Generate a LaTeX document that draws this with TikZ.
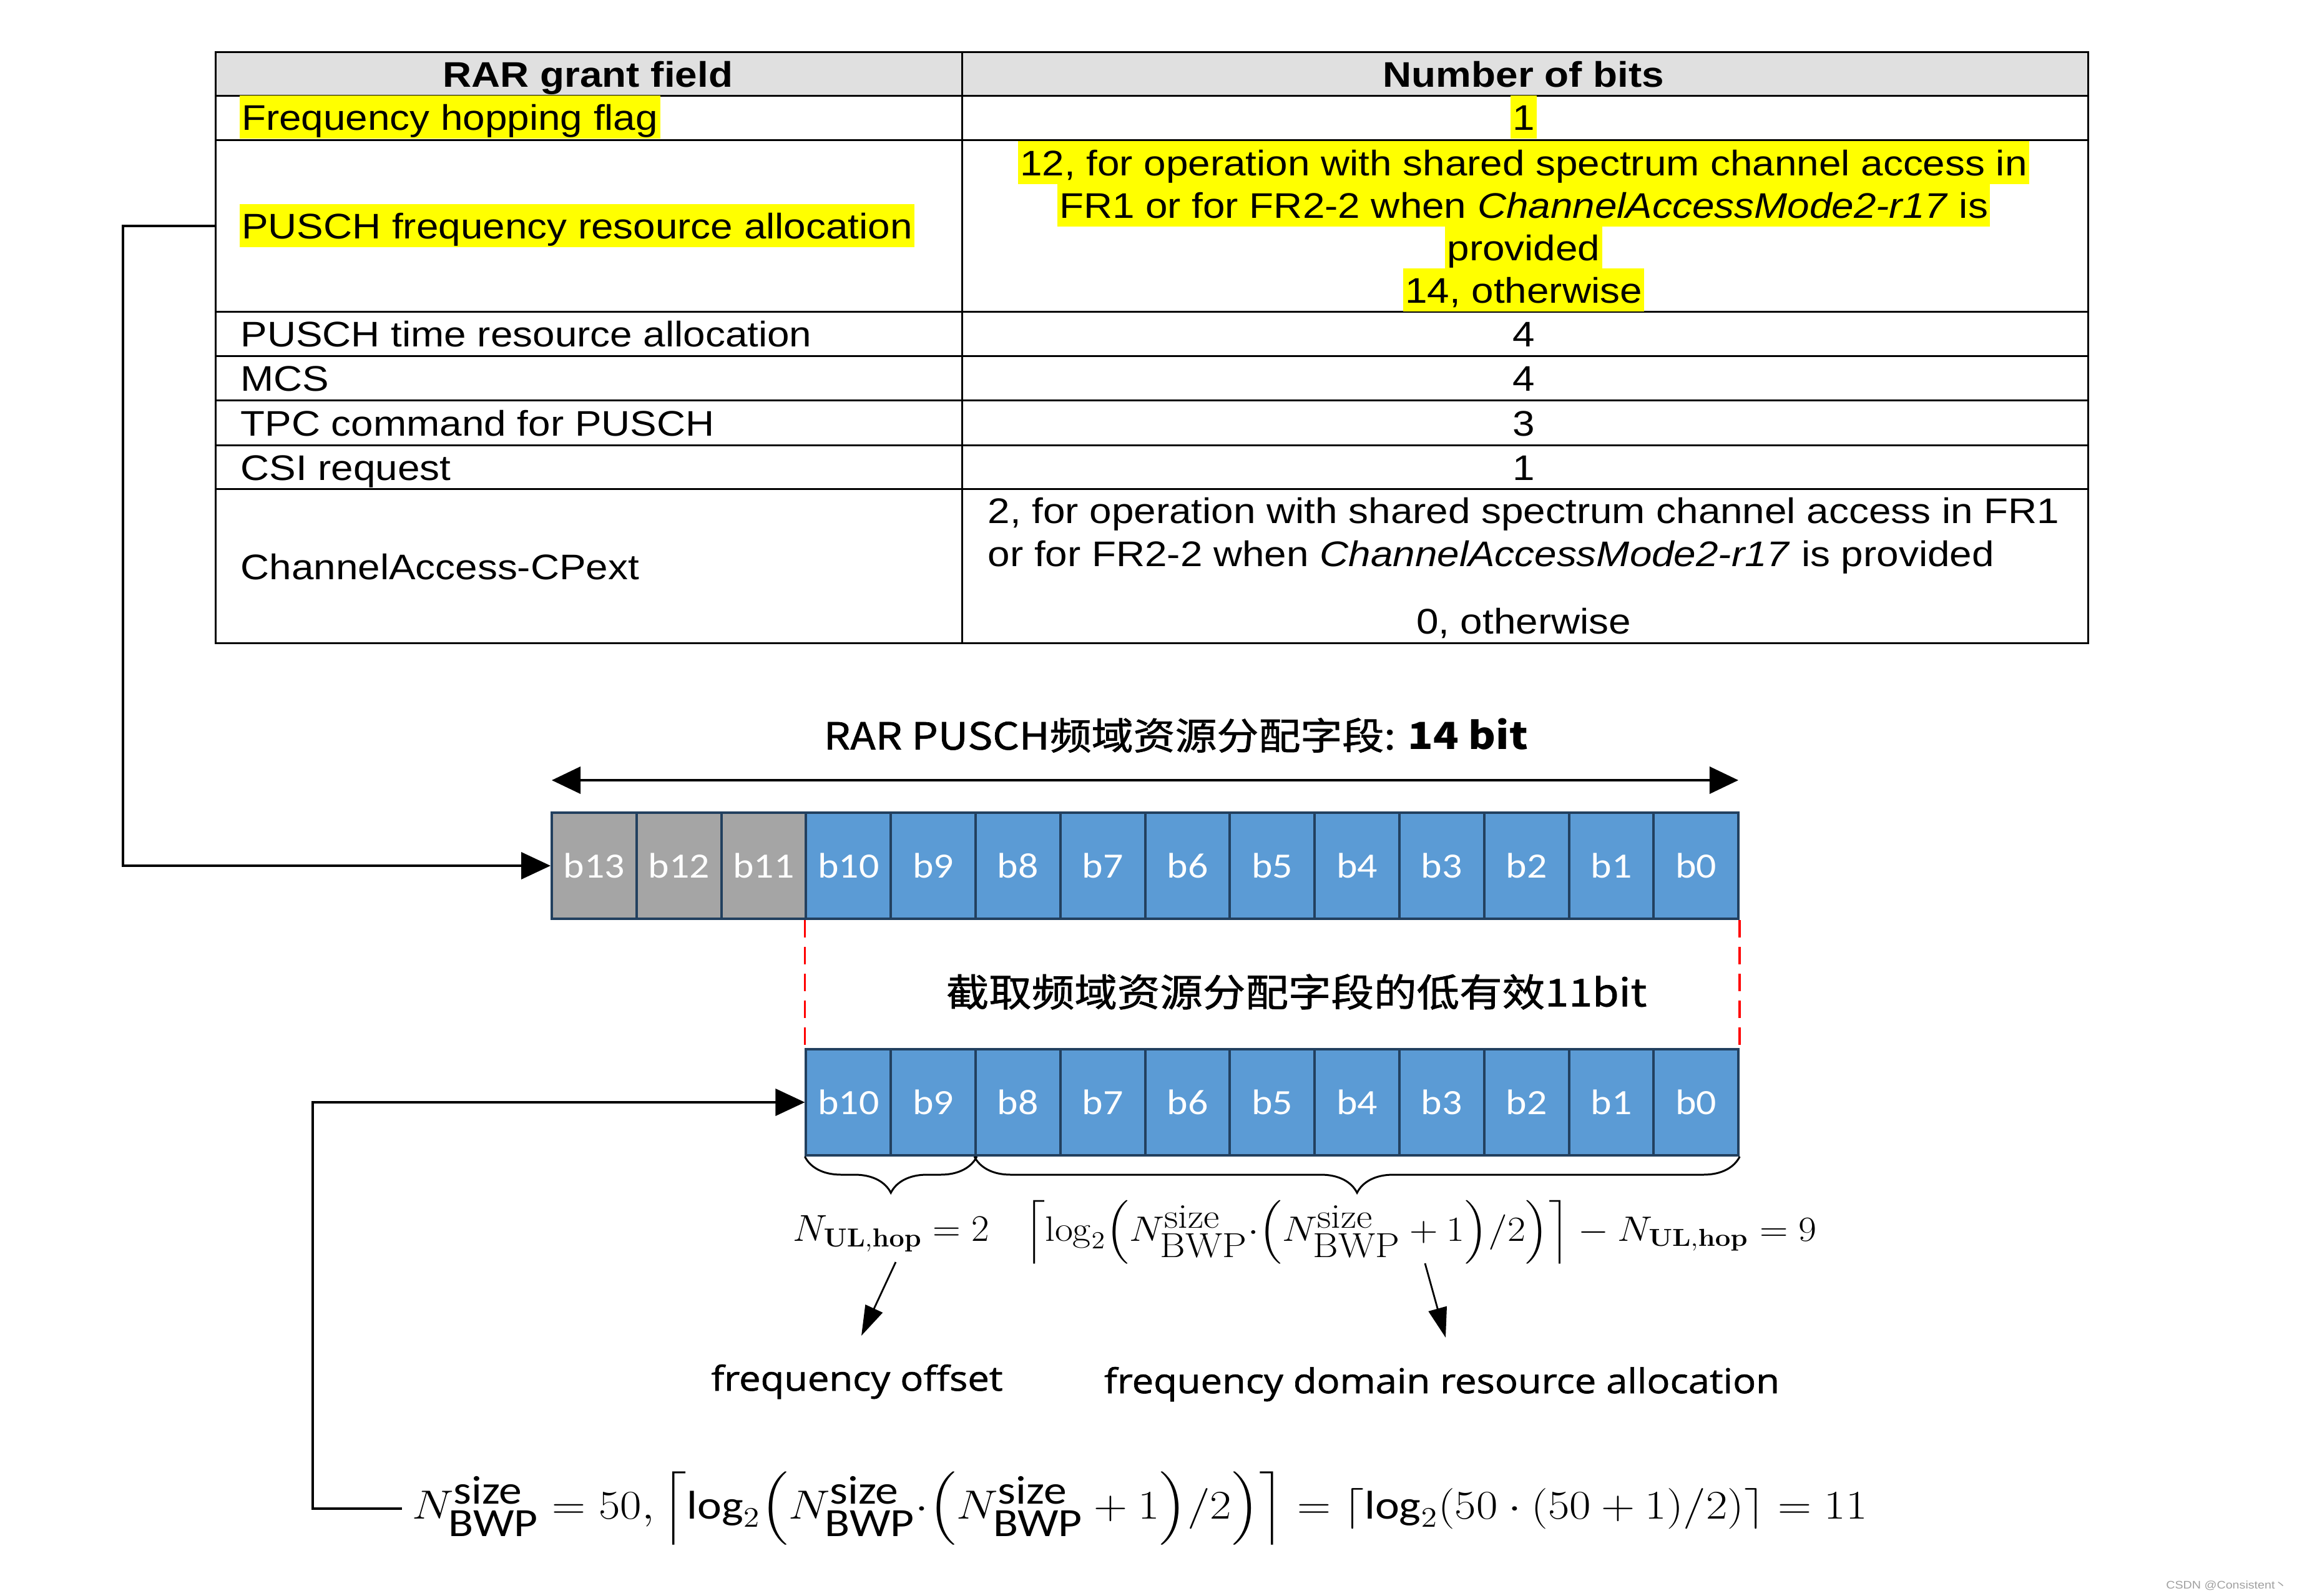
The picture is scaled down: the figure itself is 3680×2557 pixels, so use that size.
\documentclass[tikz,border=0pt]{standalone}
\usepackage[no-math]{fontspec}
\usepackage{amsmath}
\usepackage{graphicx}
\usetikzlibrary{arrows.meta,decorations.pathreplacing}
\setmainfont{Liberation Sans}[FakeStretch=1.12]
\newfontfamily\carl{Carlito}[FakeStretch=1.12]
\newfontfamily\carlm{Carlito}
\newfontfamily\cjk{Noto Sans CJK SC}[FakeStretch=1.12]
\newfontfamily\cjkmed{Noto Sans CJK SC}[FakeStretch=1.12, FakeBold=1.2]
\newfontfamily\osans{Open Sans}[FakeStretch=1.12, FakeBold=1.2]
\newfontfamily\lmr{Latin Modern Roman}
\definecolor{hl}{HTML}{FFFF00}
\definecolor{hdr}{HTML}{E0E0E0}
\definecolor{bitblue}{HTML}{5B9BD5}
\definecolor{bitgrey}{HTML}{A5A5A5}
\definecolor{bitline}{HTML}{22405F}
\definecolor{wmark}{HTML}{A0A0A0}
\newcommand{\Nsz}{N^{\mbox{\lmr size}}_{\mbox{\lmr BWP}}}
\newcommand{\Nszs}{N^{\mbox{\carlm size}}_{\mbox{\carlm BWP}}}
\newcommand{\Nhop}{N_{\mathbf{UL,hop}}}
\begin{document}
\begin{tikzpicture}[x=0.01cm,y=-0.01cm,
  lcell/.style={draw=black, line width=0.75pt, rectangle, inner sep=0pt, anchor=north west, minimum width=11.96cm},
  rcell/.style={draw=black, line width=0.75pt, rectangle, inner sep=0pt, anchor=north west, minimum width=18.03cm},
  ttext/.style={font=\fontsize{16.2}{19.5}\selectfont, inner sep=0pt, anchor=base west},
  ctext/.style={font=\fontsize{16.2}{19.5}\selectfont, inner sep=0pt, anchor=base},
  hltext/.style={fill=hl, inner xsep=1pt, inner ysep=0pt, text height=0.545cm, text depth=0.135cm},
  bit/.style={draw=bitline, line width=1.1pt, rectangle, minimum width=1.358cm, minimum height=1.70cm, inner sep=0pt, text=white, font=\carl\fontsize{16.2}{19}\selectfont},
  conn/.style={line width=1.1pt, -{Triangle[length=0.47cm,width=0.43cm]}},
  thinarr/.style={line width=0.8pt, -{Triangle[length=0.48cm,width=0.30cm]}},
  reddash/.style={red, line width=1.1pt, dash pattern=on 0.28cm off 0.15cm},
  brc/.style={decorate, decoration={brace, mirror, amplitude=0.58cm}, line width=0.85pt},
  cjkt/.style={font=\cjkmed\fontsize{17}{20}\selectfont, inner sep=0pt},
  lab/.style={font=\osans\fontsize{15.6}{18}\selectfont, inner sep=0pt, anchor=base},
  mth/.style={font=\fontsize{17}{20}\selectfont, inner sep=0pt, anchor=base}
]
\fill[white] (0,0) rectangle (3680,2557);
\useasboundingbox (0,0) rectangle (3680,2557);

% ---------------- table ----------------
\node[lcell, fill=hdr, minimum height=0.70cm] (L0) at (344,82) {};
\node[rcell, fill=hdr, minimum height=0.70cm] (R0) at (1540,82) {};
\node[lcell, minimum height=0.71cm] (L1) at (344,152) {};
\node[rcell, minimum height=0.71cm] (R1) at (1540,152) {};
\node[lcell, minimum height=2.75cm] (L2) at (344,223) {};
\node[rcell, minimum height=2.75cm] (R2) at (1540,223) {};
\node[lcell, minimum height=0.71cm] (L3) at (344,498) {};
\node[rcell, minimum height=0.71cm] (R3) at (1540,498) {};
\node[lcell, minimum height=0.71cm] (L4) at (344,569) {};
\node[rcell, minimum height=0.71cm] (R4) at (1540,569) {};
\node[lcell, minimum height=0.72cm] (L5) at (344,640) {};
\node[rcell, minimum height=0.72cm] (R5) at (1540,640) {};
\node[lcell, minimum height=0.70cm] (L6) at (344,712) {};
\node[rcell, minimum height=0.70cm] (R6) at (1540,712) {};
\node[lcell, minimum height=2.47cm] (L7) at (344,782) {};
\node[rcell, minimum height=2.47cm] (R7) at (1540,782) {};

\node[ctext, font=\fontsize{16.2}{19.5}\selectfont\bfseries] (h1) at (942,139) {RAR grant field};
\node[ctext, font=\fontsize{16.2}{19.5}\selectfont\bfseries] (h2) at (2441,139) {Number of bits};

\node[ttext, hltext] (t1) at (383,208) {Frequency hopping flag};
\node[ctext, hltext] (n1) at (2441,208) {1};
\node[ttext, hltext] (t2) at (383,382) {PUSCH frequency resource allocation};
\node[ctext, hltext] (n2a) at (2441,281) {12, for operation with shared spectrum channel access in};
\node[ctext, hltext] (n2b) at (2441,349) {FR1 or for FR2-2 when \textit{ChannelAccessMode2-r17} is};
\node[ctext, hltext] (n2c) at (2441,417) {provided};
\node[ctext, hltext] (n2d) at (2441,485) {14, otherwise};
\node[ttext] (t3) at (385,555) {PUSCH time resource allocation};
\node[ctext] (n3) at (2441,555) {4};
\node[ttext] (t4) at (385,626) {MCS};
\node[ctext] (n4) at (2441,626) {4};
\node[ttext] (t5) at (385,698) {TPC command for PUSCH};
\node[ctext] (n5) at (2441,698) {3};
\node[ttext] (t6) at (385,769) {CSI request};
\node[ctext] (n6) at (2441,769) {1};
\node[ttext] (t7) at (385,928) {ChannelAccess-CPext};
\node[ttext] (n7a) at (1582,838) {2, for operation with shared spectrum channel access in FR1};
\node[ttext] (n7b) at (1582,907) {or for FR2-2 when \textit{ChannelAccessMode2-r17} is provided};
\node[ctext] (n7c) at (2441,1015) {0, otherwise};

% ---------------- bit fields ----------------
\node[cjkt] (title) at (1884,1178) {RAR PUSCH频域资源分配字段: {\cjk\bfseries 14 bit}};
\coordinate (aL) at (884,1250);
\coordinate (aR) at (2785,1250);
\draw[line width=1.1pt, {Triangle[length=0.46cm,width=0.43cm]}-{Triangle[length=0.46cm,width=0.43cm]}] (aL) -- (aR);

\foreach \i in {13,...,0}{
  \pgfmathsetmacro\cx{884+(13-\i)*135.8+67.9}
  \ifnum\i>10 \def\bfil{bitgrey}\else\def\bfil{bitblue}\fi
  \node[bit, fill=\bfil] (t\i) at (\cx,1387) {b\i};
}
\foreach \i in {10,...,0}{
  \pgfmathsetmacro\cx{884+(13-\i)*135.8+67.9}
  \node[bit, fill=bitblue] (b\i) at (\cx,1766) {b\i};
}

\draw[reddash] (t10.south west) -- (b10.north west);
\draw[reddash] (t0.south east) -- (b0.north east);
\node[cjkt, font=\cjkmed\fontsize{17.4}{20}\selectfont] (trunc) at (2077,1589) {截取频域资源分配字段的低有效11bit};

\draw[brc] (b10.south west) -- (b9.south east);
\draw[brc] (b8.south west) -- (b0.south east);

% ---------------- formulas ----------------
\node[mth] (f1) at (1428,1988) {\resizebox{3.14cm}{0.41cm}{$\Nhop=2$}};
\node[mth] (f2) at (2276,1988) {\resizebox{12.69cm}{0.65cm}{$\Bigl\lceil \log_2\Bigl(\Nsz{\cdot}\Bigl(\Nsz+1\Bigr)/2\Bigr)\Bigr\rceil-\Nhop=9$}};

\coordinate (p1s) at (1435,2022);
\coordinate (p1e) at (1380,2140);
\coordinate (p2s) at (2283,2024);
\coordinate (p2e) at (2316,2143);
\draw[thinarr] (p1s) -- (p1e);
\draw[thinarr] (p2s) -- (p2e);

\node[lab] (fo) at (1373,2228) {frequency offset};
\node[lab] (fd) at (2310,2232) {frequency domain resource allocation};

\node[mth, inner sep=0.16cm] (fb) at (1826,2433) {\resizebox{23.30cm}{0.75cm}{$\Nszs=50,\Bigl\lceil\mbox{\carlm log}_2\Bigl(\Nszs{\cdot}\Bigl(\Nszs+1\Bigr)/2\Bigr)\Bigr\rceil=\lceil\mbox{\carlm log}_2(50\cdot(50+1)/2)\rceil=11$}};

% ---------------- connectors ----------------
\draw[conn] (L2.west) -- ++(-147,0) |- (t13.west);
\draw[conn] (fb.west) -- ++(-143,0) |- (b10.west);

\node[font=\fontsize{5}{6}\selectfont, text=wmark, inner sep=0pt, anchor=base east] (wm) at (3665,2545) {CSDN @Consistent{\cjk 丶}};
\end{tikzpicture}
\end{document}
